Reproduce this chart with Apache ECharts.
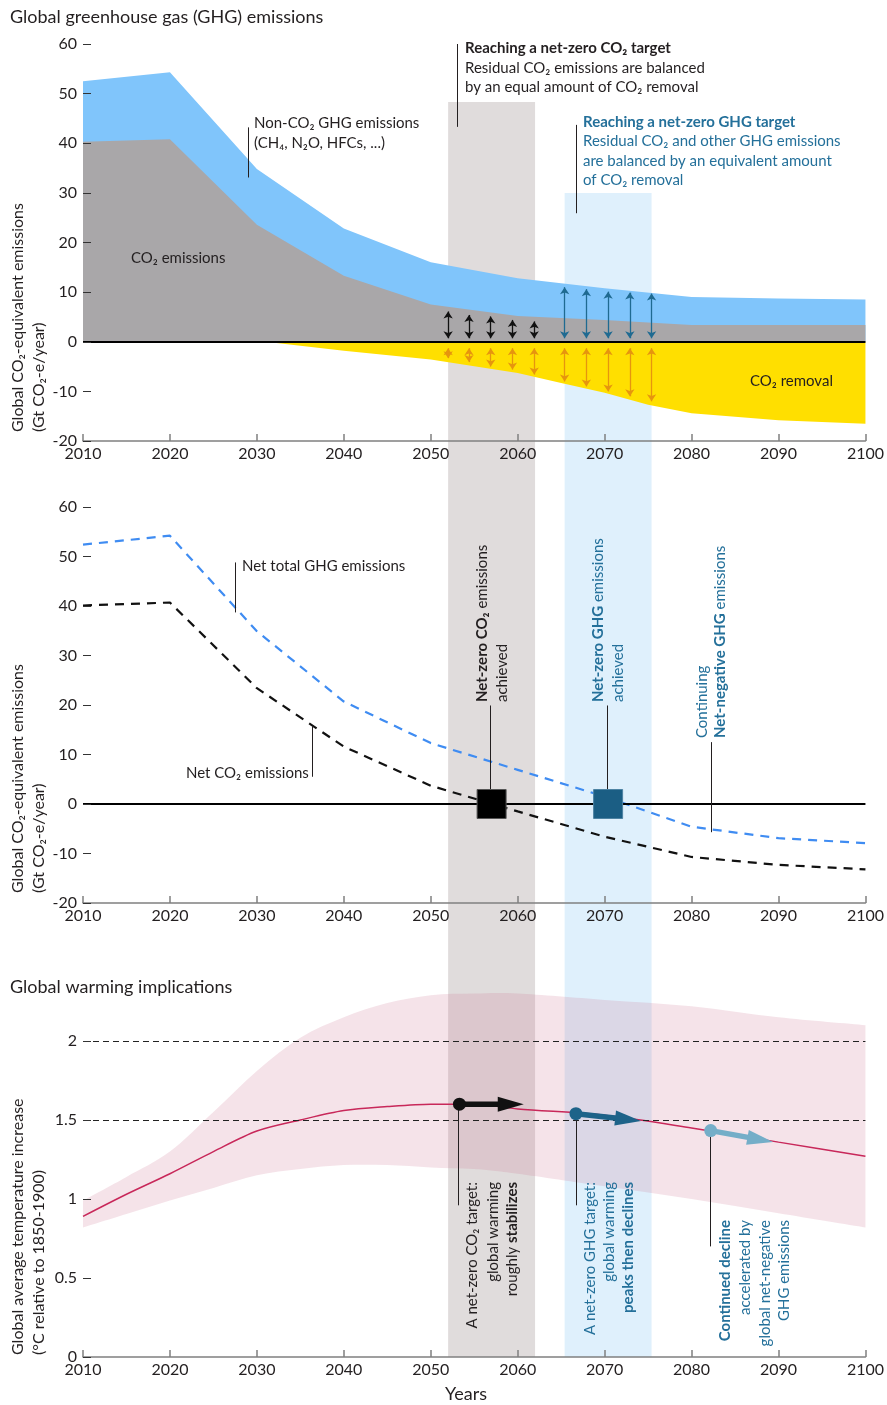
<!DOCTYPE html>
<html>
<head>
<meta charset="utf-8">
<script src="https://cdn.jsdelivr.net/npm/echarts@6/dist/echarts.min.js"></script>
<style>
html,body{margin:0;padding:0;background:#fff}
#main{width:887px;height:1405px}
</style>
</head>
<body>
<div id="main"></div>
<script>
// emissions (Gt CO2-e/year)
var years = [2010, 2020, 2030, 2040, 2050, 2060, 2070, 2080, 2090, 2100];
var totalGhgGross = [52.5, 54.3, 34.8, 22.8, 16.0, 12.8, 10.8, 9.0, 8.7, 8.5];
var co2Gross = [40.3, 40.8, 23.6, 13.3, 7.5, 5.2, 4.4, 3.4, 3.4, 3.4];
var removalYears = [2010, 2031, 2040, 2050, 2060, 2065, 2070, 2075, 2080, 2090, 2100];
var co2Removal = [0, 0, -1.8, -3.6, -6.3, -8.3, -10.3, -12.7, -14.4, -15.8, -16.5];
var netGhg = [52.4, 54.2, 34.9, 20.7, 12.3, 6.9, 1.5, -4.6, -6.9, -7.9];
var netCo2 = [40.1, 40.7, 23.4, 11.6, 3.7, -1.5, -6.6, -10.7, -12.3, -13.2];

// balance arrows in the top panel
var co2ArrowYears = [2052.0, 2054.4, 2056.9, 2059.4, 2061.9];
var co2ArrowTops = [6.8, 6.1, 5.8, 5.1, 4.8];
var ghgArrowYears = [2065.4, 2067.9, 2070.4, 2072.9, 2075.4];
var ghgArrowTops = [11.7, 11.3, 10.8, 10.6, 10.4];
var removalArrowBottoms = [-4.0, -4.8, -5.7, -6.3, -7.3, -8.7, -9.7, -10.7, -11.7, -12.7];

// net-zero markers
var netZeroYears = [2057.0, 2070.4];

// shaded periods
var co2Band = [2052, 2062];
var ghgBand = [2065.4, 2075.4];

// warming (degC relative to 1850-1900)
var tempYears = [2010, 2015, 2020, 2025, 2030, 2035, 2040, 2045, 2050, 2055, 2060, 2070, 2080, 2090, 2100];
var tempMedian = [0.89, 1.03, 1.16, 1.30, 1.43, 1.50, 1.56, 1.585, 1.60, 1.60, 1.57, 1.53, 1.45, 1.36, 1.27];
var tempLow = [0.82, 0.905, 0.99, 1.07, 1.15, 1.19, 1.215, 1.215, 1.20, 1.19, 1.16, 1.08, 1.00, 0.91, 0.82];
var tempHigh = [0.99, 1.14, 1.30, 1.55, 1.81, 2.02, 2.15, 2.24, 2.29, 2.30, 2.30, 2.26, 2.22, 2.15, 2.10];
var warmArrowStart = [[2053.3, 1.60], [2066.7, 1.54], [2082.2, 1.433]];
var warmArrowEnd = [[2059.2, 1.60], [2072.7, 1.503], [2087.9, 1.376]];

var FONT = 'Lato, "Noto Sans", "DejaVu Sans", sans-serif';
var TXT = '#231f20';
var BLUE_TXT = '#24709a';

function pairs(xs, ys) { return xs.map(function (x, i) { return [x, ys[i]]; }); }

function xAx(i) {
  return {
    type: 'value', gridIndex: i, min: 2010, max: 2100, interval: 10, z: 5,
    axisLine: { show: true, onZero: false, lineStyle: { color: '#808080', width: 1.5 } },
    axisTick: { show: true, inside: true, length: 7, lineStyle: { color: '#808080', width: 1.5 } },
    axisLabel: { color: TXT, fontSize: 16, fontFamily: FONT, margin: 5,
      formatter: function (v) { return String(v); } },
    splitLine: { show: false }
  };
}
function yAx(i, min, max, step, vals) {
  var a = {
    type: 'value', gridIndex: i, min: min, max: max, interval: step, z: 5,
    axisLine: { show: false },
    axisTick: { show: true, inside: true, length: 8, lineStyle: { color: '#333', width: 1 } },
    axisLabel: { color: TXT, fontSize: 16, fontFamily: FONT, margin: 6 },
    splitLine: { show: false }
  };
  if (vals) {
    a.axisTick.customValues = vals;
    a.axisLabel.customValues = vals;
  }
  return a;
}
function seg(x1, y1, x2, y2, ls) {
  return [{ coord: [x1, y1], lineStyle: ls }, { coord: [x2, y2] }];
}
function carrier(i, ml) {
  return {
    type: 'line', xAxisIndex: i, yAxisIndex: i, data: [[2010, 0]], symbol: 'none',
    lineStyle: { width: 0 }, silent: true, markLine: ml
  };
}
var thin = { color: TXT, width: 1, type: 'solid' };

// arrows (endpoints pulled in so the heads' tips land on the edges)
var tipPad = 0.7;
var co2Arrows = co2ArrowYears.map(function (x, i) { return seg(x, tipPad, x, co2ArrowTops[i] - tipPad, {}); });
var ghgArrows = ghgArrowYears.map(function (x, i) { return seg(x, tipPad, x, ghgArrowTops[i] - tipPad, {}); });
var remArrows = co2ArrowYears.concat(ghgArrowYears).map(function (x, i) {
  return seg(x, -0.6 - tipPad, x, removalArrowBottoms[i] + tipPad, {});
});
var arrowColors = ['#111111', '#1d6389', '#74aec8'];

// smooth edge through screen points (catmull-rom as cubic beziers)
function curve(p, move) {
  var s = move ? 'M' + p[0][0] + ',' + p[0][1] : '';
  var n = p.length;
  for (var i = 0; i < n - 1; i++) {
    var p0 = p[Math.max(i - 1, 0)], p1 = p[i], p2 = p[i + 1], p3 = p[Math.min(i + 2, n - 1)];
    var c1 = [p1[0] + (p2[0] - p0[0]) / 6, p1[1] + (p2[1] - p0[1]) / 6];
    var c2 = [p2[0] - (p3[0] - p1[0]) / 6, p2[1] - (p3[1] - p1[1]) / 6];
    s += ' C' + c1[0] + ',' + c1[1] + ' ' + c2[0] + ',' + c2[1] + ' ' + p2[0] + ',' + p2[1];
  }
  return s;
}

var option = {
  animation: false,
  grid: [
    { left: 83, right: 21, top: 44, bottom: 964 },
    { left: 83, right: 21, top: 507, bottom: 502 },
    { left: 83, right: 21, top: 962, bottom: 48 }
  ],
  xAxis: [xAx(0), xAx(1), xAx(2)],
  yAxis: [yAx(0, -20, 60, 10), yAx(1, -20, 60, 10), yAx(2, 0, 2.5, 0.5, [0, 0.5, 1, 1.5, 2])],
  series: [
    // top panel
    { type: 'line', xAxisIndex: 0, yAxisIndex: 0, data: pairs(years, totalGhgGross), symbol: 'none',
      lineStyle: { width: 0 }, areaStyle: { color: '#80c5fb', opacity: 1 }, silent: true },
    { type: 'line', xAxisIndex: 0, yAxisIndex: 0, data: pairs(years, co2Gross), symbol: 'none',
      lineStyle: { width: 0 }, areaStyle: { color: '#a9a7a9', opacity: 1 }, silent: true },
    { type: 'line', xAxisIndex: 0, yAxisIndex: 0, data: pairs(removalYears, co2Removal), symbol: 'none',
      lineStyle: { width: 0 }, areaStyle: { color: '#ffdf00', opacity: 1 }, silent: true },
    carrier(0, { silent: true, symbol: 'none', label: { show: false },
      data: [
        { yAxis: 0, lineStyle: { color: '#000', width: 2, type: 'solid' } },
        seg(2029.0, 43.2, 2029.0, 33.1, thin),
        seg(2053.1, 60, 2053.1, 43.3, thin),
        seg(2066.7, 43.7, 2066.7, 25.9, thin)
      ] }),
    carrier(0, { silent: true, symbol: ['arrow', 'arrow'], symbolSize: 7, label: { show: false },
      lineStyle: { color: '#111', width: 1.3, type: 'solid' }, data: co2Arrows }),
    carrier(0, { silent: true, symbol: ['arrow', 'arrow'], symbolSize: 7, label: { show: false },
      lineStyle: { color: '#1f6a91', width: 1.3, type: 'solid' }, data: ghgArrows }),
    carrier(0, { silent: true, symbol: ['arrow', 'arrow'], symbolSize: 7, label: { show: false },
      lineStyle: { color: '#e6950e', width: 1.3, type: 'solid' }, data: remArrows }),

    // middle panel
    carrier(1, { silent: true, symbol: 'none', label: { show: false },
      data: [
        { yAxis: 0, lineStyle: { color: '#000', width: 2, type: 'solid' } },
        seg(2027.5, 48.8, 2027.5, 38.7, thin),
        seg(2036.4, 15.7, 2036.4, 5.5, thin),
        seg(2056.9, 19.9, 2056.9, 2.8, thin),
        seg(2070.3, 19.9, 2070.3, 2.8, thin),
        seg(2082.3, 12.5, 2082.3, -5.7, thin)
      ] }),
    { type: 'line', xAxisIndex: 1, yAxisIndex: 1, data: pairs(years, netGhg), symbol: 'none', silent: true,
      lineStyle: { color: '#3f8cf2', width: 2.2, type: [9, 7] } },
    { type: 'line', xAxisIndex: 1, yAxisIndex: 1, data: pairs(years, netCo2), symbol: 'none', silent: true,
      lineStyle: { color: '#111', width: 2.2, type: [9, 7] } },
    { type: 'scatter', xAxisIndex: 1, yAxisIndex: 1, symbol: 'rect', symbolSize: 29, z: 8, silent: true,
      data: [
        { value: [netZeroYears[0], 0], itemStyle: { color: '#000', borderColor: '#555', borderWidth: 1, opacity: 1 } },
        { value: [netZeroYears[1], 0], itemStyle: { color: '#1b5e84', borderColor: '#4d83a3', borderWidth: 1, opacity: 1 } }
      ] },

    // bottom panel: likely range band
    { type: 'custom', xAxisIndex: 2, yAxisIndex: 2, silent: true, z: 2,
      data: pairs(tempYears, tempHigh),
      renderItem: function (params, api) {
        if (params.dataIndex !== 0) return null;
        var top = tempYears.map(function (x, i) { return api.coord([x, tempHigh[i]]); });
        var bot = tempYears.map(function (x, i) { return api.coord([x, tempLow[i]]); }).reverse();
        var d = curve(top, true) + ' L' + bot[0][0] + ',' + bot[0][1] + curve(bot, false) + ' Z';
        return { type: 'path', shape: { pathData: d }, style: { fill: 'rgba(205,115,145,0.2)' } };
      } },
    carrier(2, { silent: true, symbol: 'none', label: { show: false },
      data: [
        { yAxis: 2, lineStyle: { color: '#222', width: 1, type: [6, 4] } },
        { yAxis: 1.5, lineStyle: { color: '#222', width: 1, type: [6, 4] } },
        seg(2053.2, 1.6, 2053.2, 0.96, thin),
        seg(2066.7, 1.54, 2066.7, 0.96, thin),
        seg(2082.2, 1.433, 2082.2, 0.70, thin)
      ] }),
    { type: 'line', xAxisIndex: 2, yAxisIndex: 2, data: pairs(tempYears, tempMedian), symbol: 'none',
      smooth: 0.3, silent: true, z: 4, lineStyle: { color: '#c8285a', width: 1.5 } },
    // warming arrows: dot, shaft, triangular head
    { type: 'custom', xAxisIndex: 2, yAxisIndex: 2, silent: true, z: 9,
      data: warmArrowStart,
      renderItem: function (params, api) {
        var i = params.dataIndex;
        var s = api.coord(warmArrowStart[i]);
        var e = api.coord(warmArrowEnd[i]);
        var dx = e[0] - s[0], dy = e[1] - s[1];
        var len = Math.sqrt(dx * dx + dy * dy);
        var ux = dx / len, uy = dy / len, nx = -uy, ny = ux;
        var half = 13, w = 7.5;
        var tip = [e[0] + ux * half, e[1] + uy * half];
        var base = [e[0] - ux * half, e[1] - uy * half];
        var c = arrowColors[i];
        return { type: 'group', children: [
          { type: 'line', shape: { x1: s[0], y1: s[1], x2: base[0] + ux * 2, y2: base[1] + uy * 2 },
            style: { stroke: c, lineWidth: 5.5 } },
          { type: 'polygon', shape: { points: [tip, [base[0] + nx * w, base[1] + ny * w], [base[0] - nx * w, base[1] - ny * w]] },
            style: { fill: c } },
          { type: 'circle', shape: { cx: s[0], cy: s[1], r: 6.5 }, style: { fill: c } }
        ] };
      } }
  ]
};

var chart = echarts.init(document.getElementById('main'));
chart.setOption(option);

function T(x, y, text, o) {
  o = o || {};
  var size = o.size || 15;
  var color = o.color || TXT;
  return {
    type: 'text', x: x, y: y, z: 100, rotation: o.rot || 0, silent: true,
    style: {
      text: text, fill: color, fontSize: size, fontFamily: FONT,
      fontWeight: o.bold ? 'bold' : 'normal',
      align: o.align || 'left', verticalAlign: 'middle',
      textAlign: o.align || 'left', textVerticalAlign: 'middle',
      rich: { b: { fontWeight: 'bold', fontSize: size, fontFamily: FONT, fill: color } }
    }
  };
}
function R(x, y, text, o) {
  o = o || {};
  o.rot = Math.PI / 2;
  return T(x, y, text, o);
}
function px(grid, pt) { return chart.convertToPixel({ gridIndex: grid }, pt); }

var baseY = px(2, [2010, 0])[1];
function band(range, topVal, color) {
  var a = px(0, [range[0], topVal]);
  var b = px(0, [range[1], topVal]);
  return { type: 'rect', z: -1, silent: true,
    shape: { x: a[0], y: a[1], width: b[0] - a[0], height: baseY - a[1] },
    style: { fill: color } };
}

var elements = [
  band(co2Band, 48.3, '#e0dcdc'),
  band(ghgBand, 30, '#dff0fc'),

  T(10, 17, 'Global greenhouse gas (GHG) emissions', { size: 18 }),
  T(254, 123, 'Non-CO₂ GHG emissions'),
  T(254, 143, '(CH₄, N₂O, HFCs, ...)'),
  T(131, 258, 'CO₂ emissions'),
  T(465, 48, 'Reaching a net-zero CO₂ target', { bold: true }),
  T(465, 68, 'Residual CO₂ emissions are balanced'),
  T(465, 87, 'by an equal amount of CO₂ removal'),
  T(583, 122, 'Reaching a net-zero GHG target', { bold: true, color: BLUE_TXT }),
  T(583, 141, 'Residual CO₂ and other GHG emissions', { color: BLUE_TXT }),
  T(583, 161, 'are balanced by an equivalent amount', { color: BLUE_TXT }),
  T(583, 180, 'of CO₂ removal', { color: BLUE_TXT }),
  T(750, 381, 'CO₂ removal'),
  R(18, 432, 'Global CO₂-equivalent emissions', { size: 16 }),
  R(39, 432, '(Gt CO₂-e/year)', { size: 16 }),

  T(242, 566, 'Net total GHG emissions'),
  T(186, 773, 'Net CO₂ emissions'),
  R(482, 702, '{b|Net-zero CO₂} emissions'),
  R(502, 702, 'achieved'),
  R(598, 702, '{b|Net-zero GHG} emissions', { color: BLUE_TXT }),
  R(618, 702, 'achieved', { color: BLUE_TXT }),
  R(702, 738, 'Continuing', { color: BLUE_TXT }),
  R(720, 738, '{b|Net-negative GHG} emissions', { color: BLUE_TXT }),
  R(18, 893, 'Global CO₂-equivalent emissions', { size: 16 }),
  R(39, 893, '(Gt CO₂-e/year)', { size: 16 }),

  T(10, 987, 'Global warming implications', { size: 18 }),
  R(472, 1182, 'A net-zero CO₂ target:', { align: 'right' }),
  R(493, 1182, 'global warming', { align: 'right' }),
  R(512, 1182, 'roughly {b|stabilizes}', { align: 'right' }),
  R(590, 1182, 'A net-zero GHG target:', { align: 'right', color: BLUE_TXT }),
  R(609, 1182, 'global warming', { align: 'right', color: BLUE_TXT }),
  R(628, 1182, '{b|peaks then declines}', { align: 'right', color: BLUE_TXT }),
  R(725, 1220, '{b|Continued decline}', { align: 'right', color: BLUE_TXT }),
  R(745, 1220, 'accelerated by', { align: 'right', color: BLUE_TXT }),
  R(765, 1220, 'global net-negative', { align: 'right', color: BLUE_TXT }),
  R(784, 1220, 'GHG emissions', { align: 'right', color: BLUE_TXT }),
  R(18, 1355, 'Global average temperature increase', { size: 16 }),
  R(39, 1355, '(°C relative to 1850-1900)', { size: 16 }),
  T(466, 1394, 'Years', { size: 18, align: 'center' })
];

chart.setOption({ graphic: { elements: elements } });
</script>
</body>
</html>
